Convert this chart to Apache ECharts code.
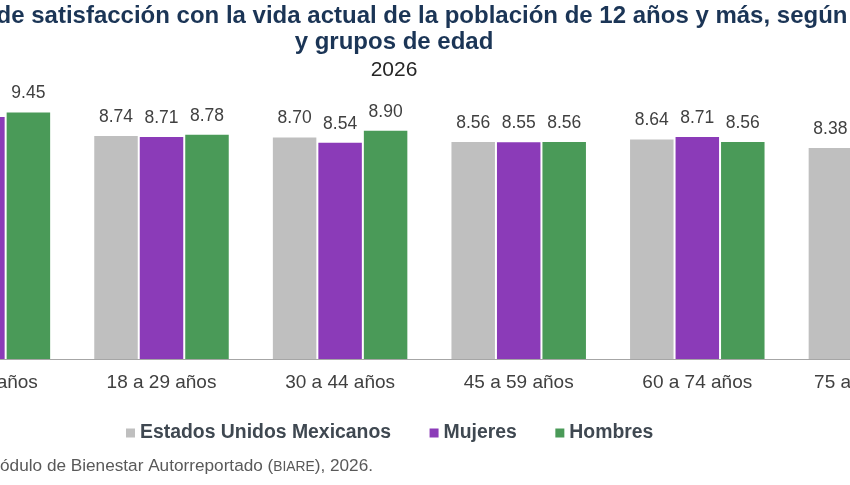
<!DOCTYPE html>
<html>
<head>
<meta charset="utf-8">
<script src="https://cdn.jsdelivr.net/npm/echarts@6/dist/echarts.min.js"></script>
<style>
html,body{margin:0;padding:0;background:#fff;overflow:hidden;width:850px;height:485px;}
#c{position:absolute;left:-200px;top:0;width:1250px;height:485px;}
</style>
</head>
<body>
<div id="c"></div>
<script>
const categories = ['12 a 17 años','18 a 29 años','30 a 44 años','45 a 59 años','60 a 74 años','75 años y más'];
const seriesNames = ['Estados Unidos Mexicanos','Mujeres','Hombres'];
const eumValues = [9.38, 8.74, 8.70, 8.56, 8.64, 8.38];
const mujeresValues = [9.32, 8.71, 8.54, 8.55, 8.71, 8.31];
const hombresValues = [9.45, 8.78, 8.90, 8.56, 8.56, 8.47];
const titleLine1 = 'Promedio de satisfacción con la vida actual de la población de 12 años y más, según sexo';
const titleLine2 = 'y grupos de edad';
const titleYear = '2026';

const OFF = 200; // div offset
const FONT = '"Liberation Sans", Arial, sans-serif';
const colors = ['#bfbfbf', '#8b3bb8', '#4a9a58'];
const valuesList = [eumValues, mujeresValues, hombresValues];

const chart = echarts.init(document.getElementById('c'), null, {renderer: 'canvas'});
const series = seriesNames.map((name, i) => ({
  name: name,
  type: 'bar',
  data: valuesList[i],
  barGap: '4.6%',
  barCategoryGap: '24.7%',
  itemStyle: {color: colors[i]},
  label: {
    show: true,
    position: 'top',
    distance: 10,
    color: '#404040',
    fontSize: 17.5,
    fontFamily: FONT,
    formatter: p => p.value.toFixed(2)
  }
}));

chart.setOption({
  backgroundColor: '#ffffff',
  animation: false,
  grid: {left: 93.6, right: 84.8, top: 94.4, bottom: 126, containLabel: false},
  xAxis: {
    type: 'category',
    data: categories,
    axisLine: {lineStyle: {color: '#a6a6a6', width: 1.2}},
    axisTick: {show: false},
    axisLabel: {color: '#404040', fontSize: 19, fontFamily: FONT, margin: 14, interval: 0}
  },
  yAxis: {type: 'value', min: 2, max: 10, show: false, splitLine: {show: false}},
  legend: {
    data: seriesNames,
    left: 126 + OFF,
    top: 423.5,
    padding: 0,
    icon: 'rect',
    itemWidth: 9,
    itemHeight: 9,
    itemGap: 38.5,
    textStyle: {color: '#3f4851', fontSize: 19.4, fontWeight: 'bold', fontFamily: FONT}
  },
  graphic: [
    {type: 'text', x: 394 + OFF, y: 16.3, style: {text: titleLine1, align: 'center', verticalAlign: 'middle', fill: '#1b3556', font: 'bold 24px ' + FONT}},
    {type: 'text', x: 394 + OFF, y: 42.6, style: {text: titleLine2, align: 'center', verticalAlign: 'middle', fill: '#1b3556', font: 'bold 24px ' + FONT}},
    {type: 'text', x: 394 + OFF, y: 70, style: {text: titleYear, align: 'center', verticalAlign: 'middle', fill: '#262626', font: '21px ' + FONT}},
    {type: 'text', x: 373 + OFF, y: 466, style: {
      text: '{a|Fuente: INEGI. Módulo de Bienestar Autorreportado (}{b|BIARE}{a|), 2026.}',
      align: 'right', verticalAlign: 'middle',
      rich: {
        a: {fontSize: 17.2, fontFamily: FONT, fill: '#595959', color: '#595959'},
        b: {fontSize: 13.8, fontFamily: FONT, fill: '#595959', color: '#595959', padding: [3, 0, 0, 0]}
      }
    }}
  ],
  series: series
});
</script>
</body>
</html>
